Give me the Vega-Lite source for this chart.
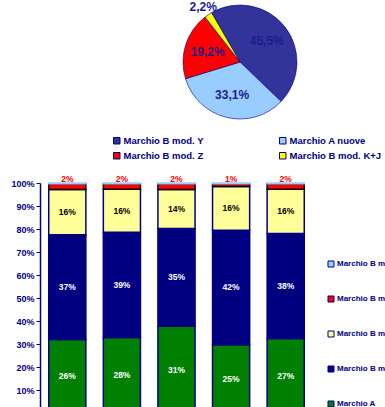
{
  "$schema": "https://vega.github.io/schema/vega-lite/v6.json",
  "background": "white",
  "padding": {"left": 10, "top": 0, "right": 0, "bottom": 0},
  "bounds": "flush",
  "spacing": 59,
  "config": {
    "font": "Liberation Sans",
    "view": {"stroke": null},
    "axis": {"grid": false, "domainColor": "#000080", "tickColor": "#000080", "labelColor": "#000080", "labelFontWeight": "bold", "labelFontSize": 9, "labelFont": "Liberation Sans", "domainWidth": 1.5, "tickSize": 4, "labelPadding": 2, "labelOverlap": false},
    "legend": {"labelFont": "Liberation Sans", "labelFontWeight": "bold", "labelColor": "#000080", "symbolType": "square", "symbolStrokeColor": "#000080", "symbolStrokeWidth": 1, "title": null}
  },
  "resolve": {"scale": {"color": "independent"}},
  "vconcat": [
    {
      "width": 400,
      "height": 124,
      "data": {"values": [
        {"series": "Marchio B mod. Y", "k": 1, "share": 45.5, "label": "45,5%"},
        {"series": "Marchio A nuove", "k": 2, "share": 33.1, "label": "33,1%"},
        {"series": "Marchio B mod. Z", "k": 3, "share": 19.2, "label": "19,2%"},
        {"series": "Marchio B mod. K+J", "k": 4, "share": 2.2, "label": "2,2%"}
      ]},
      "layer": [
        {
          "mark": {"type": "arc", "radius": 57, "stroke": "#000080", "strokeWidth": 0.6},
          "encoding": {
            "theta": {"field": "share", "type": "quantitative", "stack": true, "scale": {"range": [-0.5236, 5.7596]}},
            "order": {"field": "k", "type": "quantitative"},
            "color": {
              "field": "series", "type": "nominal",
              "scale": {"domain": ["Marchio B mod. Y", "Marchio A nuove", "Marchio B mod. Z", "Marchio B mod. K+J"], "range": ["#333399", "#99ccff", "#ff0000", "#ffff00"]},
              "legend": {"orient": "none", "legendX": 72, "legendY": 136, "columns": 2, "direction": "horizontal", "columnPadding": 73, "rowPadding": 4, "labelFontSize": 9.5, "symbolSize": 42, "labelOffset": 2}
            }
          }
        },
        {
          "mark": {"type": "text", "radius": 34, "fontSize": 12, "fontWeight": "bold", "color": "#1c1c8c"},
          "encoding": {
            "theta": {"field": "share", "type": "quantitative", "stack": true},
            "order": {"field": "k", "type": "quantitative"},
            "detail": {"field": "series", "type": "nominal"},
            "text": {"condition": {"test": "datum.k == 4", "value": ""}, "field": "label"}
          }
        },
        {
          "mark": {"type": "text", "radius": 66, "fontSize": 12, "fontWeight": "bold", "color": "#1c1c8c"},
          "encoding": {
            "theta": {"field": "share", "type": "quantitative", "stack": true},
            "order": {"field": "k", "type": "quantitative"},
            "detail": {"field": "series", "type": "nominal"},
            "text": {"condition": {"test": "datum.k != 4", "value": ""}, "field": "label"}
          }
        }
      ]
    },
    {
      "width": 273,
      "height": 230,
      "data": {"values": [
        {"cat": "1", "series": "Marchio A", "k": 1, "value": 26, "label": "26%"},
        {"cat": "1", "series": "Marchio B mod. Y", "k": 2, "value": 37, "label": "37%"},
        {"cat": "1", "series": "Marchio B mod. K+J", "k": 3, "value": 16, "label": "16%"},
        {"cat": "1", "series": "Marchio B mod. Z", "k": 4, "value": 2, "label": "2%"},
        {"cat": "1", "series": "Marchio B mod. X", "k": 5, "value": 0.3, "label": ""},
        {"cat": "2", "series": "Marchio A", "k": 1, "value": 28, "label": "28%"},
        {"cat": "2", "series": "Marchio B mod. Y", "k": 2, "value": 39, "label": "39%"},
        {"cat": "2", "series": "Marchio B mod. K+J", "k": 3, "value": 16, "label": "16%"},
        {"cat": "2", "series": "Marchio B mod. Z", "k": 4, "value": 2, "label": "2%"},
        {"cat": "2", "series": "Marchio B mod. X", "k": 5, "value": 0.3, "label": ""},
        {"cat": "3", "series": "Marchio A", "k": 1, "value": 31, "label": "31%"},
        {"cat": "3", "series": "Marchio B mod. Y", "k": 2, "value": 35, "label": "35%"},
        {"cat": "3", "series": "Marchio B mod. K+J", "k": 3, "value": 14, "label": "14%"},
        {"cat": "3", "series": "Marchio B mod. Z", "k": 4, "value": 2, "label": "2%"},
        {"cat": "3", "series": "Marchio B mod. X", "k": 5, "value": 0.3, "label": ""},
        {"cat": "4", "series": "Marchio A", "k": 1, "value": 25, "label": "25%"},
        {"cat": "4", "series": "Marchio B mod. Y", "k": 2, "value": 42, "label": "42%"},
        {"cat": "4", "series": "Marchio B mod. K+J", "k": 3, "value": 16, "label": "16%"},
        {"cat": "4", "series": "Marchio B mod. Z", "k": 4, "value": 1, "label": "1%"},
        {"cat": "4", "series": "Marchio B mod. X", "k": 5, "value": 0.3, "label": ""},
        {"cat": "5", "series": "Marchio A", "k": 1, "value": 27, "label": "27%"},
        {"cat": "5", "series": "Marchio B mod. Y", "k": 2, "value": 38, "label": "38%"},
        {"cat": "5", "series": "Marchio B mod. K+J", "k": 3, "value": 16, "label": "16%"},
        {"cat": "5", "series": "Marchio B mod. Z", "k": 4, "value": 2, "label": "2%"},
        {"cat": "5", "series": "Marchio B mod. X", "k": 5, "value": 0.3, "label": ""}
      ]},
      "encoding": {
        "x": {"field": "cat", "type": "nominal", "axis": null, "scale": {"paddingInner": 0.32, "paddingOuter": 0.16}}
      },
      "layer": [
        {
          "mark": {"type": "bar", "strokeWidth": 1.5},
          "encoding": {
            "y": {"field": "value", "type": "quantitative", "stack": "normalize", "scale": {"domain": [0, 1]}, "axis": {"title": null, "values": [0.1, 0.2, 0.3, 0.4, 0.5, 0.6, 0.7, 0.8, 0.9, 1], "format": ".0%", "labelOverlap": false}},
            "order": {"field": "k", "type": "quantitative"},
            "color": {
              "field": "series", "type": "nominal",
              "scale": {"domain": ["Marchio B mod. X", "Marchio B mod. Z", "Marchio B mod. K+J", "Marchio B mod. Y", "Marchio A"], "range": ["#99ccff", "#ff0000", "#ffff99", "#000080", "#008000"]},
              "legend": {"orient": "none", "legendX": 287, "legendY": 77, "rowPadding": 25, "labelFontSize": 8, "symbolSize": 36, "labelOffset": 2, "labelLimit": 0}
            },
            "stroke": {"condition": [{"test": "datum.k == 4", "value": "black"}, {"test": "datum.k == 5", "value": "#99ccff"}], "value": "#000080"}
          }
        },
        {
          "mark": {"type": "text", "fontSize": 8.5, "fontWeight": "bold"},
          "encoding": {
            "y": {"field": "value", "type": "quantitative", "stack": "normalize", "bandPosition": 0.5, "axis": {"title": null, "values": [0.1, 0.2, 0.3, 0.4, 0.5, 0.6, 0.7, 0.8, 0.9, 1], "format": ".0%", "labelOverlap": false}},
            "order": {"field": "k", "type": "quantitative"},
            "detail": {"field": "series", "type": "nominal"},
            "text": {"condition": {"test": "datum.k >= 4", "value": ""}, "field": "label"},
            "color": {"condition": {"test": "datum.k == 3", "value": "black"}, "value": "white"}
          }
        },
        {
          "mark": {"type": "text", "fontSize": 8.5, "fontWeight": "bold", "color": "#ff0000", "baseline": "alphabetic", "dy": -2},
          "encoding": {
            "y": {"field": "value", "type": "quantitative", "stack": "normalize", "bandPosition": 1, "axis": {"title": null, "values": [0.1, 0.2, 0.3, 0.4, 0.5, 0.6, 0.7, 0.8, 0.9, 1], "format": ".0%", "labelOverlap": false}},
            "order": {"field": "k", "type": "quantitative"},
            "detail": {"field": "series", "type": "nominal"},
            "text": {"condition": {"test": "datum.k != 4", "value": ""}, "field": "label"}
          }
        }
      ]
    }
  ]
}
